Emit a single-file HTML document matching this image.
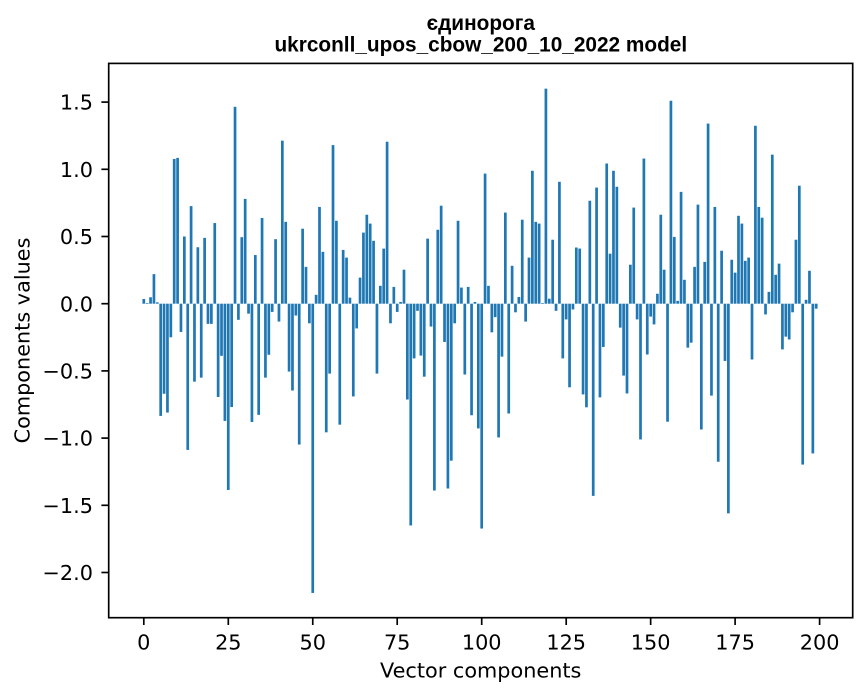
<!DOCTYPE html>
<html>
<head>
<meta charset="utf-8">
<style>
  html, body { margin: 0; padding: 0; background: #fff; }
  svg { display: block; }
  .t { font-family: "DejaVu Sans", "Liberation Sans", sans-serif; font-size: 20.8px; fill: #000; }
  .title { font-family: "Liberation Sans", "DejaVu Sans", sans-serif; font-weight: bold; font-size: 20.8px; fill: #000; }
</style>
</head>
<body>
<svg id="chart" width="867" height="696" viewBox="0 0 867 696" xmlns="http://www.w3.org/2000/svg">
  <rect x="0" y="0" width="867" height="696" fill="#fff"/>
  <g id="bars" fill="#1f77b4"></g>

  <!-- spines -->
  <rect x="108.7" y="63.4" width="744" height="554.3" fill="none" stroke="#000" stroke-width="1.67"/>

  <!-- y ticks -->
  <g stroke="#000" stroke-width="1.67">
    <line x1="101.4" x2="108.7" y1="102.1" y2="102.1"/>
    <line x1="101.4" x2="108.7" y1="169.3" y2="169.3"/>
    <line x1="101.4" x2="108.7" y1="236.5" y2="236.5"/>
    <line x1="101.4" x2="108.7" y1="303.7" y2="303.7"/>
    <line x1="101.4" x2="108.7" y1="370.9" y2="370.9"/>
    <line x1="101.4" x2="108.7" y1="438.1" y2="438.1"/>
    <line x1="101.4" x2="108.7" y1="505.3" y2="505.3"/>
    <line x1="101.4" x2="108.7" y1="572.5" y2="572.5"/>
  </g>
  <g class="t" text-anchor="end">
    <text x="93" y="109.7">1.5</text>
    <text x="93" y="176.9">1.0</text>
    <text x="93" y="244.1">0.5</text>
    <text x="93" y="311.3">0.0</text>
    <text x="93" y="378.5">−0.5</text>
    <text x="93" y="445.7">−1.0</text>
    <text x="93" y="512.9">−1.5</text>
    <text x="93" y="580.1">−2.0</text>
  </g>

  <!-- x ticks -->
  <g stroke="#000" stroke-width="1.67">
    <line y1="617.7" y2="625" x1="143.8" x2="143.8"/>
    <line y1="617.7" y2="625" x1="228.3" x2="228.3"/>
    <line y1="617.7" y2="625" x1="312.75" x2="312.75"/>
    <line y1="617.7" y2="625" x1="397.2" x2="397.2"/>
    <line y1="617.7" y2="625" x1="481.7" x2="481.7"/>
    <line y1="617.7" y2="625" x1="566.2" x2="566.2"/>
    <line y1="617.7" y2="625" x1="650.65" x2="650.65"/>
    <line y1="617.7" y2="625" x1="735.1" x2="735.1"/>
    <line y1="617.7" y2="625" x1="819.6" x2="819.6"/>
  </g>
  <g class="t" text-anchor="middle">
    <text x="143.8" y="649.3">0</text>
    <text x="228.3" y="649.3">25</text>
    <text x="312.75" y="649.3">50</text>
    <text x="397.2" y="649.3">75</text>
    <text x="481.7" y="649.3">100</text>
    <text x="566.2" y="649.3">125</text>
    <text x="650.65" y="649.3">150</text>
    <text x="735.1" y="649.3">175</text>
    <text x="819.6" y="649.3">200</text>
  </g>

  <!-- axis labels -->
  <text class="t" x="480.7" y="677.3" text-anchor="middle">Vector components</text>
  <text class="t" text-anchor="middle" transform="translate(29.3,340.5) rotate(-90)">Components values</text>

  <!-- title -->
  <text class="title" x="480.8" y="30" text-anchor="middle">єдинорога</text>
  <text class="title" x="480.8" y="51.7" text-anchor="middle">ukrconll_upos_cbow_200_10_2022 model</text>
</svg>
<script>
(function(){
  var v = [0.035,0.005,0.048,0.22,0.01,-0.835,-0.67,-0.81,-0.25,1.077,
  1.085,-0.21,0.50,-1.088,0.726,-0.58,0.42,-0.55,0.49,-0.15,
  -0.15,0.60,-0.694,-0.388,-0.872,-1.386,-0.769,1.465,-0.12,0.495,
  0.78,-0.074,-0.88,0.362,-0.827,0.638,-0.55,-0.38,-0.061,0.48,
  -0.133,1.213,0.609,-0.505,-0.646,-0.088,-1.048,0.558,0.274,-0.146,
  -2.152,0.066,0.72,0.386,-0.957,-0.52,1.18,0.617,-0.9,0.40,
  0.343,0.045,-0.69,-0.184,0.194,0.529,0.662,0.596,0.468,-0.52,
  0.133,0.41,1.205,-0.146,0.125,-0.061,0.013,0.253,-0.713,-1.65,
  -0.407,-0.053,-0.386,-0.543,0.484,-0.17,-1.39,0.55,0.729,-0.285,
  -1.375,-1.168,-0.146,0.617,0.12,-0.527,0.125,-0.83,0.013,-0.928,
  -1.673,0.968,0.133,-0.213,-0.10,-0.995,-0.394,0.678,-0.817,0.282,
  -0.064,0.05,0.625,-0.133,0.343,0.989,0.609,0.596,0.005,1.60,
  0.037,0.476,-0.053,0.907,-0.407,-0.117,-0.622,-0.043,0.418,0.41,
  -0.675,-0.771,0.766,-1.43,0.864,-0.697,-0.322,1.043,0.372,0.989,
  0.87,-0.178,-0.535,-0.668,0.29,0.715,-0.117,-1.01,1.08,-0.378,
  -0.096,-0.154,0.074,0.662,0.253,-0.878,1.51,0.497,0.021,0.832,
  0.178,-0.327,-0.29,0.274,0.737,-0.936,0.311,1.34,-0.684,0.72,
  -1.176,0.394,-0.426,-1.56,0.327,0.231,0.654,0.596,0.319,0.343,
  -0.415,1.324,0.72,0.64,-0.08,0.088,1.109,0.215,0.298,-0.34,
  -0.245,-0.266,-0.064,0.476,0.878,-1.197,0.029,0.245,-1.114,-0.037];
  var g = document.getElementById('bars');
  var ns = 'http://www.w3.org/2000/svg';
  var x0 = 143.8, sx = 3.379, y0 = 303.7, sy = 134.4, w = 0.8*sx;
  for (var i = 0; i < v.length; i++) {
    var cx = x0 + i*sx;
    var yv = y0 - v[i]*sy;
    var r = document.createElementNS(ns, 'rect');
    r.setAttribute('x', (cx - w/2).toFixed(2));
    r.setAttribute('width', w.toFixed(2));
    r.setAttribute('y', Math.min(yv, y0).toFixed(2));
    r.setAttribute('height', Math.max(Math.abs(yv - y0), 0.3).toFixed(2));
    g.appendChild(r);
  }
})();
</script>
</body>
</html>
